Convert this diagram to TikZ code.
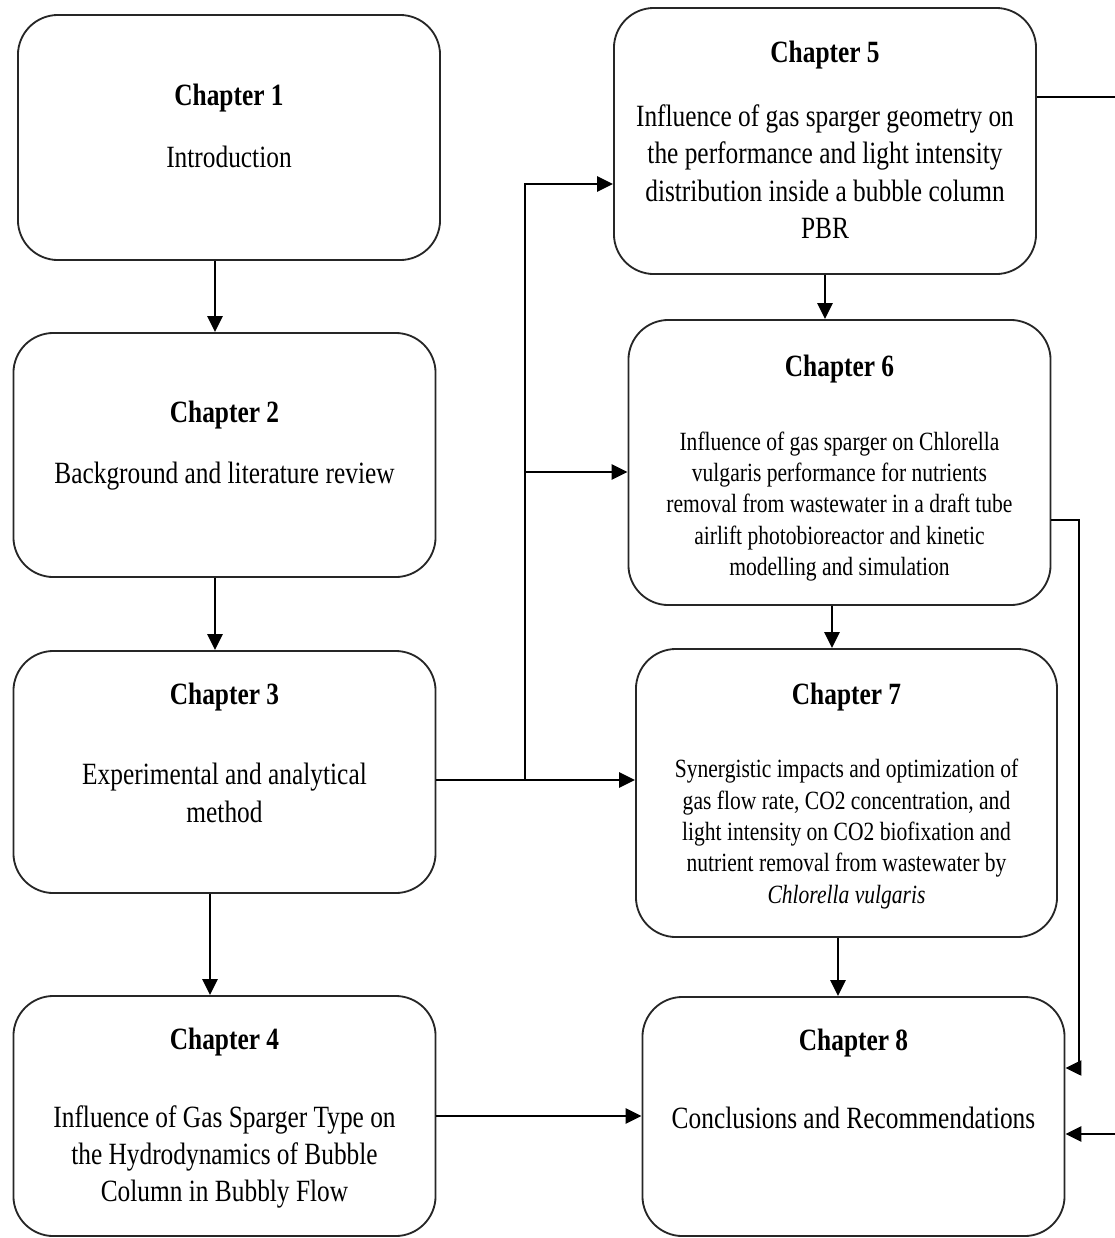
\documentclass[tikz,border=0pt]{standalone}
\usepackage{fontspec}
\setmainfont{Liberation Serif}[FakeStretch=0.82]
\usetikzlibrary{arrows.meta}
\tikzset{
  chbox/.style={draw=black!85, line width=1.3pt, rounded corners=1cm, minimum width=10.55cm},
  chhead/.style={inner sep=0pt, yshift=-0.075cm, font=\fontsize{22}{26.6}\selectfont\bfseries},
  chtext/.style={inner sep=0pt, align=center, font=\fontsize{22}{26.6}\selectfont},
  chsmall/.style={inner sep=0pt, yshift=-0.06cm, align=center, font=\fontsize{18.7}{22.3}\selectfont},
  arr/.style={line width=1.8pt, -{Triangle[length=0.4cm, width=0.38cm]}}
}

\begin{document}
\begin{tikzpicture}[x=0.025cm, y=-0.025cm]
\useasboundingbox (0,0) rectangle (1115,1238);
\clip (0,0) rectangle (1115,1238);

% left column
\node[chbox, minimum height=6.125cm] (ch1) at (229,137.5) {};
\node[chhead] (h1) at (229,95) {Chapter 1};
\node[chtext] (t1) at (229,157) {Introduction};

\node[chbox, minimum height=6.1cm] (ch2) at (224.5,455) {};
\node[chhead] (h2) at (224.5,412) {Chapter 2};
\node[chtext] (t2) at (224.5,476) {Background and literature review};

\node[chbox, minimum height=6.05cm] (ch3) at (224.5,772) {};
\node[chhead] (h3) at (224.5,694) {Chapter 3};
\node[chtext] (t3) at (224.5,793) {Experimental and analytical\\method};

\node[chbox, minimum height=6cm] (ch4) at (224.5,1116) {};
\node[chhead] (h4) at (224.5,1039) {Chapter 4};
\node[chtext] (t4) at (224.5,1157) {Influence of Gas Sparger Type on\\the Hydrodynamics of Bubble\\Column in Bubbly Flow};

% right column
\node[chbox, minimum height=6.65cm] (ch5) at (825,141) {};
\node[chhead] (h5) at (825,52) {Chapter 5};
\node[chtext] (t5) at (825,171.5) {Influence of gas sparger geometry on\\the performance and light intensity\\distribution inside a bubble column\\PBR};

\node[chbox, minimum height=7.125cm] (ch6) at (839.5,462.5) {};
\node[chhead] (h6) at (839.5,366) {Chapter 6};
\node[chsmall] (t6) at (839.5,504) {Influence of gas sparger on Chlorella\\vulgaris performance for nutrients\\removal from wastewater in a draft tube\\airlift photobioreactor and kinetic\\modelling and simulation};

\node[chbox, minimum width=10.525cm, minimum height=7.2cm] (ch7) at (846.5,793) {};
\node[chhead] (h7) at (846.5,694) {Chapter 7};
\node[chsmall] (t7) at (846.5,831.5) {Synergistic impacts and optimization of\\gas flow rate, CO2 concentration, and\\light intensity on CO2 biofixation and\\nutrient removal from wastewater by\\\textit{Chlorella vulgaris}};

\node[chbox, minimum height=5.975cm] (ch8) at (853.5,1116.5) {};
\node[chhead] (h8) at (853.5,1040) {Chapter 8};
\node[chtext] (t8) at (853.5,1118) {Conclusions and Recommendations};

% vertical links
\draw[arr] ([xshift=-0.35cm]ch1.south) -- ([xshift=-0.35cm]ch1.south |- ch2.north);
\draw[arr] ([xshift=-0.2375cm]ch2.south) -- ([xshift=-0.2375cm]ch2.south |- ch3.north);
\draw[arr] ([xshift=-0.3625cm]ch3.south) -- ([xshift=-0.3625cm]ch3.south |- ch4.north);
\draw[arr] (ch5.south) -- (ch5.south |- ch6.north);
\draw[arr] ([xshift=-0.1875cm]ch6.south) -- ([xshift=-0.1875cm]ch6.south |- ch7.north);
\draw[arr] ([xshift=-0.2125cm]ch7.south) -- ([xshift=-0.2125cm]ch7.south |- ch8.north);

% chapter 3 branches
\coordinate (split) at (525,780);
\coordinate (up5) at (525,184);
\coordinate (up6) at (525,472);
\draw[arr] (ch3.east |- split) -- (split) -- (up5) -- (up5 -| ch5.west);
\draw[arr] (up6) -- (up6 -| ch6.west);
\draw[arr] (split) -- (split -| ch7.west);

\draw[arr] (ch4.east) -- (ch4.east -| ch8.west);

% side links to chapter 8
\coordinate (far) at (1125,97);
\draw[arr] (ch5.east |- far) -- (far) |- ([yshift=-0.4375cm]ch8.east);
\coordinate (side6) at (1079,520);
\draw[arr, line width=1.3pt] (ch6.east |- side6) -- (side6) |- ([yshift=1.2125cm]ch8.east);
\end{tikzpicture}
\end{document}
